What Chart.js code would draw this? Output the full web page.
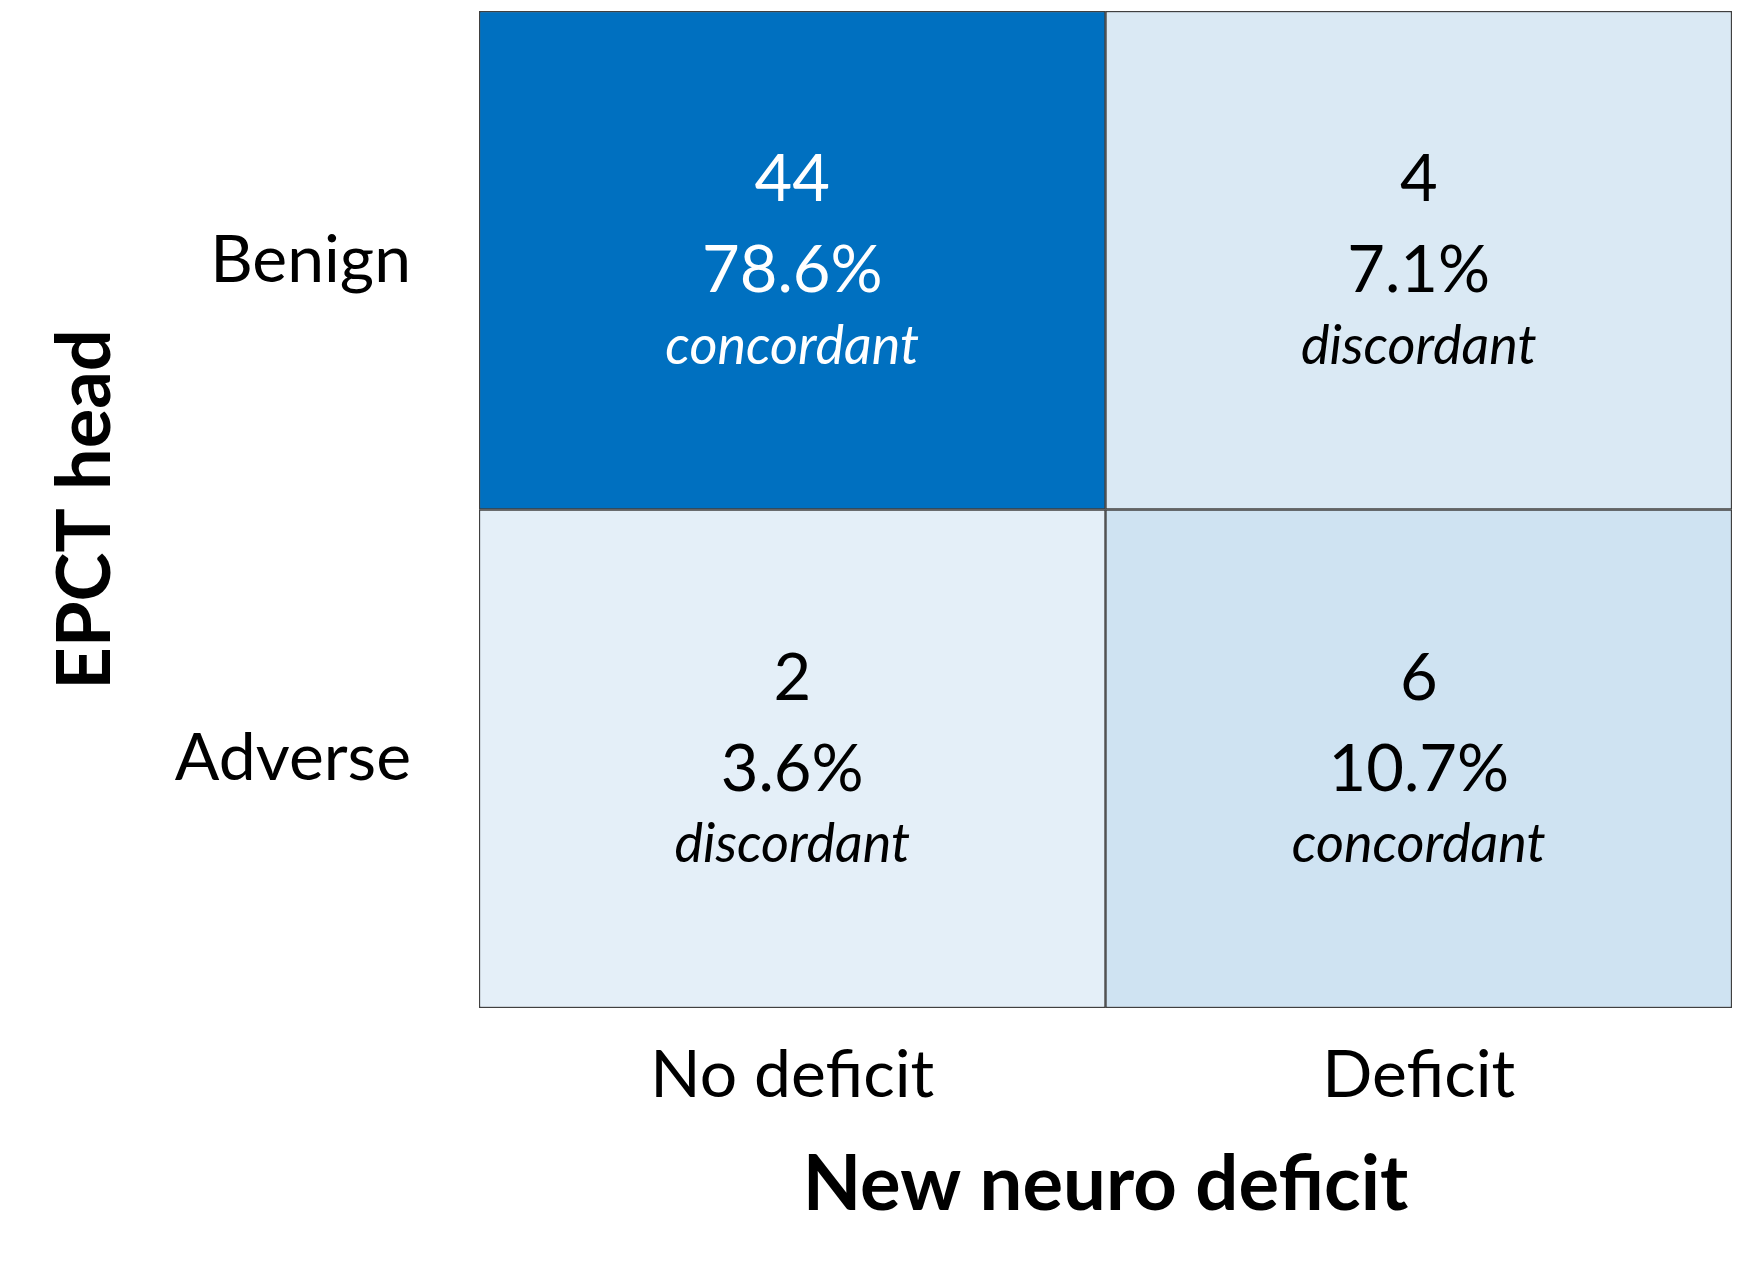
<!DOCTYPE html>
<html><head><meta charset="utf-8">
<script src="https://cdn.jsdelivr.net/npm/chart.js@4/dist/chart.umd.min.js"></script>
<style>html,body{margin:0;padding:0;background:#fff}#w{width:1737px;height:1285px}</style>
</head><body><div id="w"><canvas id="c"></canvas></div>
<script>
const columns = ['No deficit', 'Deficit'];
const rows = ['Adverse', 'Benign'];
const counts = { Benign: [44, 4], Adverse: [2, 6] };
const percents = { Benign: ['78.6%', '7.1%'], Adverse: ['3.6%', '10.7%'] };
const notes = { Benign: ['concordant', 'discordant'], Adverse: ['discordant', 'concordant'] };
const fills = { Benign: ['#0070C0', '#DAE9F4'], Adverse: ['#E4EFF8', '#CFE3F2'] };
const FONT = 'Lato, "Open Sans", sans-serif';

const cellText = {
  id: 'cellText',
  afterDatasetsDraw(chart) {
    const ctx = chart.ctx;
    chart.data.datasets.forEach((ds, di) => {
      const row = ds.label;
      chart.getDatasetMeta(di).data.forEach((el, i) => {
        const cy = (el.y + el.base) / 2;
        const col = row === 'Benign' && i === 0 ? '#ffffff' : '#000000';
        ctx.save();
        ctx.fillStyle = col; ctx.textAlign = 'center'; ctx.textBaseline = 'middle';
        ctx.font = `65px ${FONT}`;
        ctx.fillText(String(counts[row][i]), el.x, cy - 80);
        ctx.fillText(percents[row][i], el.x, cy + 11);
        ctx.font = `italic 54px ${FONT}`;
        ctx.fillText(notes[row][i], el.x, cy + 86);
        ctx.restore();
      });
    });
  }
};

new Chart(document.getElementById('c'), {
  type: 'bar',
  data: {
    labels: columns,
    datasets: rows.map(r => ({
      label: r, data: columns.map(() => 1), backgroundColor: fills[r],
      borderColor: '#404040', borderWidth: 1.5, borderSkipped: false,
      categoryPercentage: 1, barPercentage: 1
    }))
  },
  options: {
    responsive: true, maintainAspectRatio: false, animation: false,
    layout: { padding: { top: 11, right: 5, left: 38, bottom: 50 } },
    plugins: { legend: { display: false }, tooltip: { enabled: false } },
    scales: {
      x: {
        stacked: true, grid: { display: false, drawTicks: false }, border: { display: false },
        ticks: { color: '#000', font: { family: FONT, size: 66 }, padding: 28 },
        title: { display: true, text: 'New neuro deficit', color: '#000', font: { family: FONT, size: 76, weight: 'bold' }, padding: { top: 22 } },
        afterFit(s) { s.height = 227; s.paddingLeft = 0; s.paddingRight = 0; }
      },
      y: {
        stacked: true, min: 0, max: 2, grid: { display: false, drawTicks: false }, border: { display: false },
        afterBuildTicks(s) { s.ticks = [{ value: 0.5 }, { value: 1.5 }]; },
        ticks: { color: '#000', font: { family: FONT, size: 66 }, padding: 68,
          callback: v => v > 1 ? rows[1] : rows[0] },
        title: { display: true, text: 'EPCT head', color: '#000', font: { family: FONT, size: 74, weight: 'bold' }, padding: { bottom: 0 } },
        afterFit(s) { s.width = 441; s.paddingTop = 0; s.paddingBottom = 0; }
      }
    }
  },
  plugins: [cellText]
});
</script></body></html>
